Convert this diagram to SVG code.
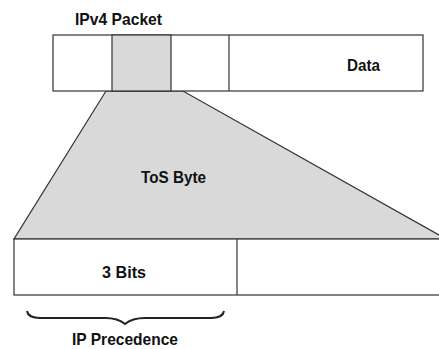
<svg xmlns="http://www.w3.org/2000/svg" width="439" height="349" viewBox="0 0 439 349">
<style>
.ln{fill:none;stroke:#333;stroke-width:1.2}
.box{fill:#fff;stroke:#333;stroke-width:1.2}
.gray{fill:#d9d9d9;stroke:#333;stroke-width:1.2}
.t{font-family:"Liberation Sans",Arial,sans-serif;font-weight:bold;font-size:17px;fill:#111;text-anchor:middle}
</style>
<rect width="439" height="349" fill="#fff"/>
<g id="tos-fan">
<polygon class="gray" points="106,91 183,91 446,239 14,239"/>
<text class="t" x="173.5" y="183" textLength="65" lengthAdjust="spacingAndGlyphs">ToS Byte</text>
</g>
<g id="ipv4-packet">
<text class="t" x="118.5" y="25" textLength="87" lengthAdjust="spacingAndGlyphs">IPv4 Packet</text>
<rect class="box" x="53" y="35" width="370" height="56"/>
<rect class="gray" x="112" y="35" width="59" height="56"/>
<line class="ln" x1="229" y1="35" x2="229" y2="91"/>
<text class="t" x="363.5" y="71" textLength="33" lengthAdjust="spacingAndGlyphs">Data</text>
</g>
<g id="tos-byte">
<rect class="box" x="14" y="239" width="440" height="56"/>
<line class="ln" x1="237" y1="239" x2="237" y2="295"/>
<text class="t" x="124" y="278" textLength="44" lengthAdjust="spacingAndGlyphs">3 Bits</text>
</g>
<g id="connectors">
<path d="M27,311 Q28,318 40,318 L105,318 Q118,318 125,324 Q132,318 145,318 L211,318 Q223,318 224,311" fill="none" stroke="#222" stroke-width="2"/>
</g>
<g id="ip-precedence">
<text class="t" x="125" y="345" textLength="106" lengthAdjust="spacingAndGlyphs">IP Precedence</text>
</g>
</svg>
